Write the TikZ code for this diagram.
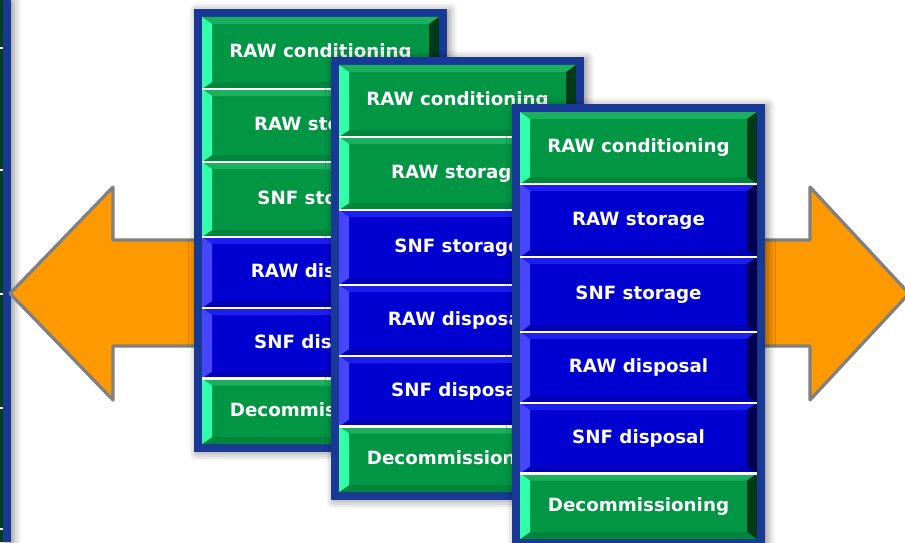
\documentclass[tikz,border=0pt]{standalone}
\usepackage{fontspec}
\setmainfont{DejaVu Sans}
\usetikzlibrary{shadows.blur}
\definecolor{framebl}{RGB}{24,58,150}
\definecolor{greenmain}{RGB}{0,150,68}
\definecolor{greentop}{RGB}{26,176,94}
\definecolor{greenbot}{RGB}{0,134,60}
\definecolor{greenleft}{RGB}{50,255,170}
\definecolor{greenright}{RGB}{0,58,24}
\definecolor{bluemain}{RGB}{0,0,208}
\definecolor{bluetop}{RGB}{30,30,240}
\definecolor{bluebot}{RGB}{0,0,180}
\definecolor{blueleft}{RGB}{70,70,255}
\definecolor{blueright}{RGB}{0,0,80}
\definecolor{arroworange}{RGB}{255,153,0}
\definecolor{arrowgrey}{RGB}{128,128,128}
\definecolor{stripgreen}{RGB}{0,70,35}
\tikzstyle{btntext}=[text=white,font=\fontsize{13.7}{16}\selectfont\bfseries,inner sep=0pt]
\tikzstyle{frame}=[fill=framebl,blur shadow={shadow xshift=2pt,shadow yshift=-1pt,shadow blur radius=6pt,shadow opacity=45}]
\tikzstyle{sep}=[draw=white,line width=1.9pt]
\tikzstyle{bigarrow}=[fill=arroworange,draw=arrowgrey,line width=2.4pt,line join=round]

% bevelled button: name, left x, top y, bottom y, colour set, text
\newcommand{\btn}[6]{%
  \fill[#5main] (#2,#3) rectangle (#2+237,#4);
  \fill[#5top] (#2,#3) -- (#2+237,#3) -- (#2+227,#3+7) -- (#2+10,#3+7) -- cycle;
  \fill[#5bot] (#2,#4) -- (#2+237,#4) -- (#2+227,#4-7) -- (#2+10,#4-7) -- cycle;
  \fill[#5left] (#2,#3) -- (#2+10,#3+7) -- (#2+10,#4-7) -- (#2,#4) -- cycle;
  \fill[#5right] (#2+237,#3) -- (#2+227,#3+7) -- (#2+227,#4-7) -- (#2+237,#4) -- cycle;
  \node[btntext] (#1) at (#2+118.5,{(#3+#4)/2}) {#6};}

% one stack: suffix, x, y, then the six colour sets
\newcommand{\stack}[9]{%
  \fill[frame] (#2,#3) rectangle (#2+253,#3+443);
  \btn{rawcond#1}{#2+8}{#3+8}{#3+80}{#4}{RAW conditioning}
  \btn{rawstor#1}{#2+8}{#3+80}{#3+153}{#5}{RAW storage}
  \btn{snfstor#1}{#2+8}{#3+153}{#3+228}{#6}{SNF storage}
  \btn{rawdisp#1}{#2+8}{#3+228}{#3+299}{#7}{RAW disposal}
  \btn{snfdisp#1}{#2+8}{#3+299}{#3+369.5}{#8}{SNF disposal}
  \btn{decomm#1}{#2+8}{#3+369.5}{#3+435}{#9}{Decommissioning}
  \foreach \d in {80,153,228,299,369.5}
    \draw[sep] (#2+8,#3+\d) -- ++(237,0);}

\begin{document}
\begin{tikzpicture}[x=0.75pt,y=-0.75pt]
	\useasboundingbox (0,0) rectangle (905,542);
	\clip (0,0) rectangle (905,542);
	% stack cut off at the left edge
	\fill[stripgreen] (0,0) rectangle (3,542);
	\fill[frame] (3,0) rectangle (11,542);
	\foreach \yy in {48,170,294,408,529}
		\draw[sep] (0,\yy) -- (3,\yy);
	% double arrow behind the stacks
	\filldraw[bigarrow] (10,293.5) -- (113,187) -- (113,240) -- (810,240) -- (810,187)
		-- (909,293.5) -- (810,400) -- (810,346) -- (113,346) -- (113,400) -- cycle;
	\stack{A}{194}{9}{green}{green}{green}{blue}{blue}{green}
	\stack{B}{331}{57}{green}{green}{blue}{blue}{blue}{green}
	\stack{C}{512}{104}{green}{blue}{blue}{blue}{blue}{green}
\end{tikzpicture}
\end{document}
